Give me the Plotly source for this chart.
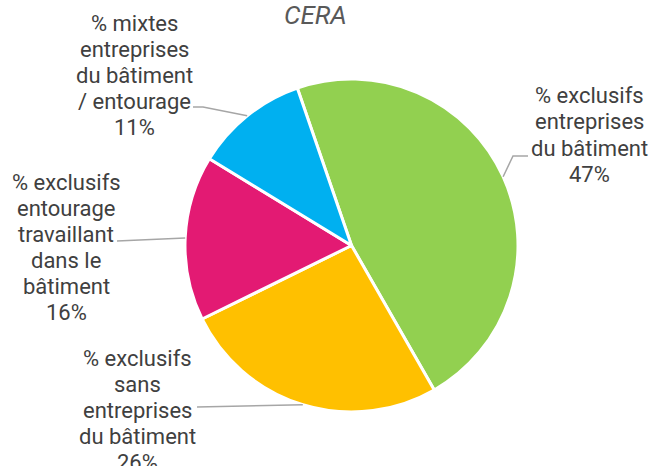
import math
import plotly.graph_objects as go

# ---- data ----
categories = [
    "% exclusifs<br>entreprises<br>du bâtiment",
    "% exclusifs<br>sans<br>entreprises<br>du bâtiment",
    "% exclusifs<br>entourage<br>travaillant<br>dans le<br>bâtiment",
    "% mixtes<br>entreprises<br>du bâtiment<br>/ entourage",
]
values = [47, 26, 16, 11]
colors = ["#92D050", "#FFC000", "#E31A73", "#00B0F0"]
title_text = "CERA"

# ---- layout constants ----
W, H = 653, 466
ROT = -19
cx, cy, R = 351.5, 245.5, 166.5
dom_x = [(cx - R) / W, (cx + R) / W]
dom_y = [1 - (cy + R) / H, 1 - (cy - R) / H]
LINE_H = 26
FONT = dict(family="Roboto", size=22, color="#404040")

# label centres (px) and leader-line start/elbow (px)
label_pos = [(589, 135), (137, 410), (66, 247), (134, 75)]
leader = [
    [(528, 156), (513, 156)],
    [(197, 407)],
    [(117, 241)],
    [(193, 107), (203, 107)],
]

fig = go.Figure()
fig.add_trace(go.Pie(
    values=values,
    labels=[c.replace("<br>", " ") for c in categories],
    sort=False,
    direction="clockwise",
    rotation=ROT,
    marker=dict(colors=colors, line=dict(color="white", width=3)),
    textinfo="none",
    hoverinfo="label+percent",
    showlegend=False,
    domain=dict(x=dom_x, y=dom_y),
))

def px2paper(p):
    return p[0] / W, 1 - p[1] / H

total = sum(values)
acc = 0
annotations = []
shapes = []
for i, v in enumerate(values):
    mid = math.radians(ROT + (acc + v / 2) / total * 360)
    acc += v
    ex = cx + R * math.sin(mid)
    ey = cy - R * math.cos(mid)
    pts = leader[i] + [(ex, ey)]
    path = "M " + " L ".join(
        f"{px2paper(p)[0]},{px2paper(p)[1]}" for p in pts
    )
    shapes.append(dict(type="path", xref="paper", yref="paper", path=path,
                       line=dict(color="#A6A6A6", width=1.5)))
    pct = round(v / total * 100)
    lines = categories[i].split("<br>") + [f"{pct}%"]
    n = len(lines)
    lx0, ly0 = label_pos[i]
    for j, t in enumerate(lines):
        lx, ly = px2paper((lx0, ly0 + (j - (n - 1) / 2) * LINE_H))
        annotations.append(dict(
            x=lx, y=ly, xref="paper", yref="paper", text=t,
            showarrow=False, xanchor="center", yanchor="middle",
            align="center", font=FONT,
        ))

annotations.append(dict(
    x=315 / W, y=1 - 15 / H, xref="paper", yref="paper",
    text=f"<i>{title_text}</i>", showarrow=False,
    xanchor="center", yanchor="middle",
    font=dict(family="Roboto", size=26, color="#595959"),
))

fig.update_layout(
    width=W, height=H,
    margin=dict(l=0, r=0, t=0, b=0),
    paper_bgcolor="white", plot_bgcolor="white",
    annotations=annotations, shapes=shapes,
    showlegend=False,
)
fig.write_html("out.html", config={"displayModeBar": False},
               post_script="document.body.style.margin='0';")
